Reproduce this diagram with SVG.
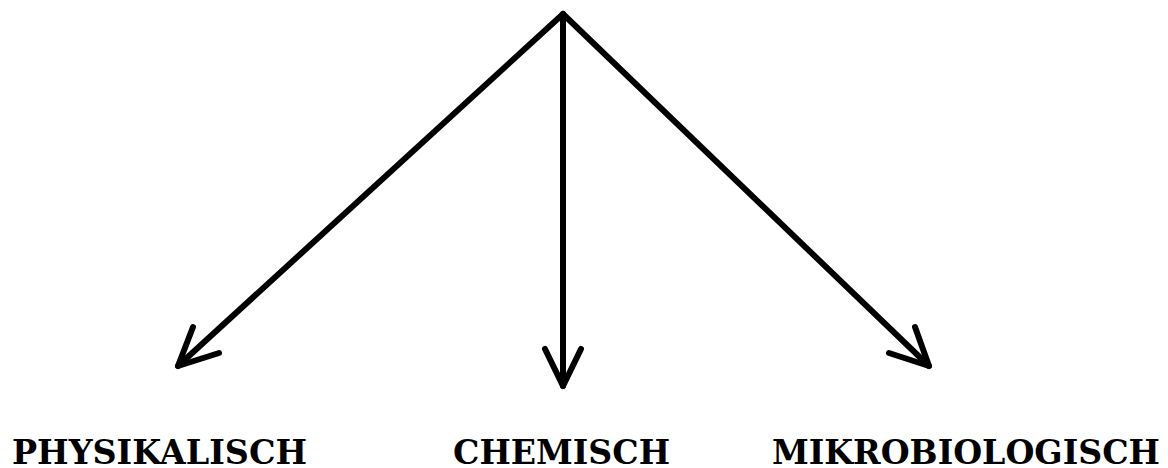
<svg xmlns="http://www.w3.org/2000/svg" width="1168" height="468" viewBox="0 0 1168 468">
<style>
.c{fill:none;stroke:#000;stroke-width:6;stroke-linecap:round;stroke-linejoin:round}
.t{font-family:"DejaVu Serif","Liberation Serif",serif;font-weight:bold;font-size:33px;fill:#000}
</style>
<rect width="1168" height="468" fill="#fff"/>
<g id="connectors">
<path class="c" d="M563 14 L178 366"/>
<path class="c" d="M193 327 L178 366 L219 353"/>
<path class="c" d="M563 14 L563 386"/>
<path class="c" d="M545 349 L563 386 L581 349"/>
<path class="c" d="M563 14 L929 366"/>
<path class="c" d="M915 327 L929 366 L889 353"/>
</g>
<g id="physikalisch"><text class="t" x="12" y="464" textLength="295" lengthAdjust="spacingAndGlyphs">PHYSIKALISCH</text></g>
<g id="chemisch"><text class="t" x="453" y="464" textLength="217" lengthAdjust="spacingAndGlyphs">CHEMISCH</text></g>
<g id="mikrobiologisch"><text class="t" x="772" y="464" textLength="388" lengthAdjust="spacingAndGlyphs">MIKROBIOLOGISCH</text></g>
</svg>
